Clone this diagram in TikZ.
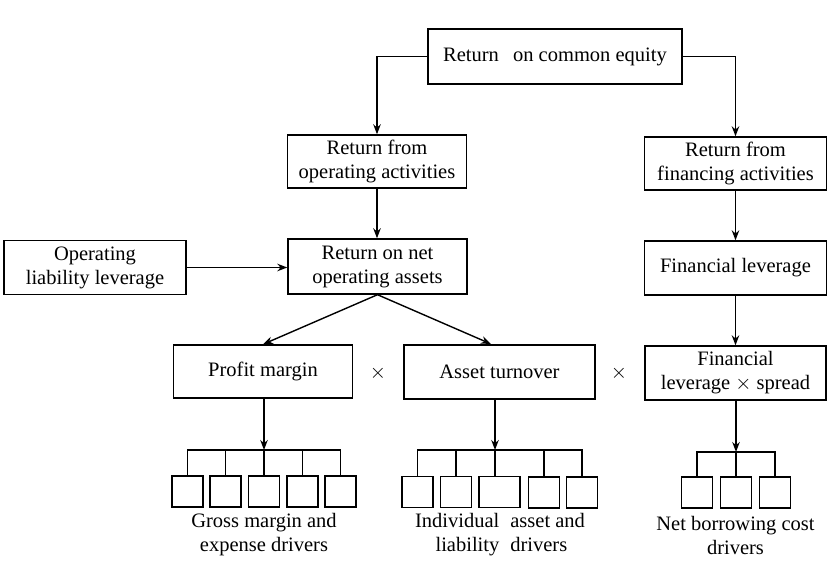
\documentclass[tikz,border=0pt]{standalone}
\usepackage{fontspec}
\setmainfont{Liberation Serif}
\usetikzlibrary{arrows.meta}
\begin{document}
\begin{tikzpicture}[x=1pt,y=-1pt,
  every node/.style={font=\fontsize{20.5}{24}\selectfont, inner sep=0pt},
  box/.style={draw, line width=1.4pt, align=center},
  sbox/.style={draw, line width=1.4pt, minimum width=31pt, minimum height=31pt},
  ln/.style={line width=1.4pt},
  arr/.style={line width=1.4pt, -{Stealth[length=10pt,width=7.5pt]}},
  lbl/.style={align=center}]
\useasboundingbox (0,0) rectangle (828,567);
% main boxes
\node[box, minimum width=254pt, minimum height=55pt] (roce) at (555,56.5) {Return\hspace{9pt} on common equity};
\node[box, minimum width=179pt, minimum height=53pt] (roa) at (377,161.5) {Return from\\operating activities};
\node[box, minimum width=182pt, minimum height=53pt] (rfa) at (735.5,163.5) {Return from\\financing activities};
\node[box, minimum width=179pt, minimum height=55pt] (rnoa) at (377.5,266.5) {Return on net\\operating assets};
\node[box, minimum width=182pt, minimum height=54pt] (oll) at (95,267.5) {Operating\\liability leverage};
\node[box, minimum width=182pt, minimum height=54pt] (fl) at (735.5,268) {Financial leverage};
\node[box, minimum width=179pt, minimum height=53pt] (pm) at (263,371.5) {Profit margin};
\node[box, minimum width=191pt, minimum height=54pt] (at) at (499.5,372) {Asset turnover};
\node[box, minimum width=181pt, minimum height=54pt] (fls) at (735.5,373) {Financial\\leverage $\times$ spread};
\node (x1) at (378,373) {$\times$};
\node (x2) at (619,373) {$\times$};
% top connectors
\draw[arr] (roce.west) -| (roa.north);
\draw[arr] (roce.east) -| (rfa.north);
\draw[arr] (roa.south) -- (roa.south |- rnoa.north);
\draw[arr] (oll.east) -- (oll.east -| rnoa.west);
\draw[arr] (rfa.south) -- (fl.north);
\draw[arr] (fl.south) -- (fls.north);
\coordinate (atin) at (491,344);
\draw[arr] (rnoa.south) -- (pm.north);
\draw[arr] (rnoa.south) -- (atin);
% group 1
\foreach \i/\x in {1/187.5,2/225.5,3/264,4/302.5,5/340.5}
  \node[sbox] (g\i) at (\x,491.5) {};
\coordinate (b1) at (264,450);
\draw[arr] (pm.south -| b1) -- (b1);
\draw[ln] (g1.north) |- (g5.north |- b1) -- (g5.north);
\foreach \i in {2,3,4} \draw[ln] (g\i.north) -- (g\i.north |- b1);
% group 2
\node[sbox] (h1) at (417.5,492) {};
\node[sbox] (h2) at (456,492) {};
\node[sbox, minimum width=41pt] (h3) at (499.5,492) {};
\node[sbox] (h4) at (544,492.5) {};
\node[sbox] (h5) at (582,492.5) {};
\coordinate (b2) at (495,450);
\draw[arr] (at.south -| b2) -- (b2);
\draw[ln] (h1.north) |- (h5.north |- b2) -- (h5.north);
\foreach \i in {2,4} \draw[ln] (h\i.north) -- (h\i.north |- b2);
\draw[ln] (b2) -- (b2 |- h3.north);
% group 3
\foreach \i/\x in {1/697,2/736,3/775}
  \node[sbox] (k\i) at (\x,492.5) {};
\coordinate (b3) at (736,452);
\draw[arr] (fls.south -| b3) -- (b3);
\draw[ln] (k1.north) |- (k3.north |- b3) -- (k3.north);
\draw[ln] (k2.north) -- (b3);
% labels
\node[lbl] (l1) at (264,535) {Gross margin and\\expense drivers};
\node[lbl] (l2) at (500,535) {\begin{tabular}{@{}r@{\hspace{11pt}}l@{}}Individual & asset and\\ liability & drivers\end{tabular}};
\node[lbl] (l3) at (735.5,535) {Net borrowing cost\\drivers};
\end{tikzpicture}
\end{document}
